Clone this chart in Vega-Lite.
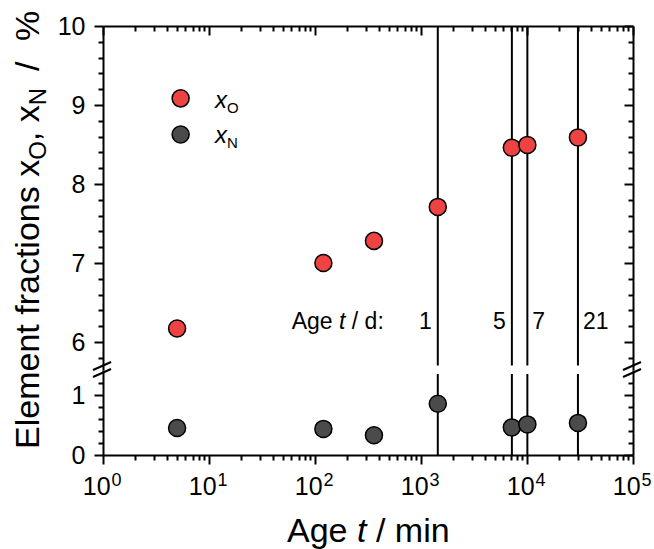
{
  "$schema": "https://vega.github.io/schema/vega-lite/v6.json",
  "padding": {"left": 11, "top": 10, "right": 5, "bottom": 5},
  "config": {
    "font": "Liberation Sans",
    "view": {"stroke": null},
    "axis": {
      "grid": false,
      "domainColor": "#000",
      "domainWidth": 2,
      "tickColor": "#000",
      "tickWidth": 2,
      "labelColor": "#000",
      "labelFont": "Liberation Sans",
      "labelFontSize": 25
    },
    "text": {"font": "Liberation Sans", "color": "#000"}
  },
  "datasets": {
    "samples": [
      {"t": 5, "xO": 6.17, "xN": 0.45},
      {"t": 120, "xO": 7.0, "xN": 0.435},
      {"t": 360, "xO": 7.28, "xN": 0.33},
      {"t": 1440, "xO": 7.71, "xN": 0.855},
      {"t": 7200, "xO": 8.46, "xN": 0.46},
      {"t": 10080, "xO": 8.495, "xN": 0.51},
      {"t": 30240, "xO": 8.59, "xN": 0.535}
    ],
    "days": [
      {"t": 1440, "d": "1"},
      {"t": 7200, "d": "5"},
      {"t": 10080, "d": "7"},
      {"t": 30240, "d": "21"}
    ],
    "decades": [
      {"v": 1, "e": "0"},
      {"v": 10, "e": "1"},
      {"v": 100, "e": "2"},
      {"v": 1000, "e": "3"},
      {"v": 10000, "e": "4"},
      {"v": 100000, "e": "5"}
    ],
    "one": [{}]
  },
  "bounds": "flush",
  "spacing": 0,
  "resolve": {"scale": {"y": "independent"}},
  "vconcat": [
    {
      "width": 530,
      "height": 344,
      "resolve": {"axis": {"x": "independent", "y": "independent"}},
      "layer": [
        {
          "data": {"name": "days"},
          "mark": {"type": "rule", "color": "#000", "strokeWidth": 2},
          "encoding": {
            "x": {"field": "t", "type": "quantitative", "scale": {"type": "log", "domain": [1, 100000], "nice": false}, "axis": null},
            "y": {
              "datum": 5.703, "type": "quantitative",
              "scale": {"domain": [5.6456, 10], "nice": false, "zero": false},
              "axis": {
                "orient": "right", "title": null, "labels": false,
                "values": [5.8,6,6.2,6.4,6.6,6.8,7,7.2,7.4,7.6,7.8,8,8.2,8.4,8.6,8.8,9,9.2,9.4,9.6,9.8,10],
                "tickSize": {"condition": {"test": "abs(datum.value - round(datum.value)) < 0.000001", "value": -9}, "value": -5}
              }
            },
            "y2": {"datum": 10}
          }
        },
        {
          "data": {"name": "samples"},
          "mark": {"type": "circle", "size": 290, "fill": "#EF4343", "stroke": "#000", "strokeWidth": 1.5, "opacity": 1},
          "encoding": {
            "x": {
              "field": "t", "type": "quantitative",
              "scale": {"type": "log", "domain": [1, 100000], "nice": false},
              "axis": {
                "orient": "top", "title": null, "labels": false,
                "values": [1,2,3,4,5,6,7,8,9,10,20,30,40,50,60,70,80,90,100,200,300,400,500,600,700,800,900,1000,2000,3000,4000,5000,6000,7000,8000,9000,10000,20000,30000,40000,50000,60000,70000,80000,90000,100000],
                "tickSize": {"condition": {"test": "indexof([1, 10, 100, 1000, 10000, 100000], datum.value) >= 0", "value": -9}, "value": -5}
              }
            },
            "y": {
              "field": "xO", "type": "quantitative",
              "scale": {"domain": [5.6456, 10], "nice": false, "zero": false},
              "axis": {
                "orient": "left", "title": null, "labelPadding": 9,
                "values": [5.8,6,6.2,6.4,6.6,6.8,7,7.2,7.4,7.6,7.8,8,8.2,8.4,8.6,8.8,9,9.2,9.4,9.6,9.8,10],
                "labelExpr": "abs(datum.value - round(datum.value)) < 0.000001 ? format(datum.value, 'd') : ''",
                "tickSize": {"condition": {"test": "abs(datum.value - round(datum.value)) < 0.000001", "value": 9}, "value": 5}
              }
            }
          }
        },
        {
          "data": {"name": "one"},
          "mark": {"type": "circle", "size": 290, "fill": "#EF4343", "stroke": "#000", "strokeWidth": 1.5, "opacity": 1},
          "encoding": {
            "x": {"datum": 5.4, "type": "quantitative", "axis": null},
            "y": {"datum": 9.084, "type": "quantitative", "axis": null}
          }
        },
        {
          "data": {"name": "one"},
          "mark": {"type": "circle", "size": 290, "fill": "#4B4B4B", "stroke": "#000", "strokeWidth": 1.5, "opacity": 1},
          "encoding": {
            "x": {"datum": 5.4, "type": "quantitative", "axis": null},
            "y": {"datum": 8.626, "type": "quantitative", "axis": null}
          }
        },
        {
          "data": {"name": "one"},
          "mark": {"type": "text", "text": "x", "fontSize": 24, "fontStyle": "italic", "align": "left", "baseline": "alphabetic"},
          "encoding": {
            "x": {"datum": 11.4, "type": "quantitative", "axis": null},
            "y": {"datum": 8.965, "type": "quantitative", "axis": null}
          }
        },
        {
          "data": {"name": "one"},
          "mark": {"type": "text", "text": "O", "fontSize": 15, "align": "left", "baseline": "alphabetic", "dx": 12, "dy": 5},
          "encoding": {
            "x": {"datum": 11.4, "type": "quantitative", "axis": null},
            "y": {"datum": 8.965, "type": "quantitative", "axis": null}
          }
        },
        {
          "data": {"name": "one"},
          "mark": {"type": "text", "text": "x", "fontSize": 24, "fontStyle": "italic", "align": "left", "baseline": "alphabetic"},
          "encoding": {
            "x": {"datum": 11.4, "type": "quantitative", "axis": null},
            "y": {"datum": 8.521, "type": "quantitative", "axis": null}
          }
        },
        {
          "data": {"name": "one"},
          "mark": {"type": "text", "text": "N", "fontSize": 15, "align": "left", "baseline": "alphabetic", "dx": 12, "dy": 5},
          "encoding": {
            "x": {"datum": 11.4, "type": "quantitative", "axis": null},
            "y": {"datum": 8.521, "type": "quantitative", "axis": null}
          }
        },
        {
          "data": {"name": "one"},
          "mark": {"type": "text", "text": "Age", "fontSize": 23, "align": "left", "baseline": "alphabetic"},
          "encoding": {
            "x": {"datum": 60.3, "type": "quantitative", "axis": null},
            "y": {"datum": 6.164, "type": "quantitative", "axis": null}
          }
        },
        {
          "data": {"name": "one"},
          "mark": {"type": "text", "text": "t", "fontSize": 23, "fontStyle": "italic", "align": "left", "baseline": "alphabetic", "dx": 47.3},
          "encoding": {
            "x": {"datum": 60.3, "type": "quantitative", "axis": null},
            "y": {"datum": 6.164, "type": "quantitative", "axis": null}
          }
        },
        {
          "data": {"name": "one"},
          "mark": {"type": "text", "text": "/ d:", "fontSize": 23, "align": "left", "baseline": "alphabetic", "dx": 60.1},
          "encoding": {
            "x": {"datum": 60.3, "type": "quantitative", "axis": null},
            "y": {"datum": 6.164, "type": "quantitative", "axis": null}
          }
        },
        {
          "data": {"name": "days"},
          "transform": [{"filter": "datum.d == '1' || datum.d == '5'"}],
          "mark": {"type": "text", "fontSize": 23, "align": "right", "baseline": "alphabetic", "dx": -6},
          "encoding": {
            "x": {"field": "t", "type": "quantitative", "scale": {"type": "log", "domain": [1, 100000], "nice": false}, "axis": null},
            "y": {"datum": 6.164, "type": "quantitative", "axis": null},
            "text": {"field": "d"}
          }
        },
        {
          "data": {"name": "days"},
          "transform": [{"filter": "datum.d == '7' || datum.d == '21'"}],
          "mark": {"type": "text", "fontSize": 23, "align": "left", "baseline": "alphabetic", "dx": 5},
          "encoding": {
            "x": {"field": "t", "type": "quantitative", "scale": {"type": "log", "domain": [1, 100000], "nice": false}, "axis": null},
            "y": {"datum": 6.164, "type": "quantitative", "axis": null},
            "text": {"field": "d"}
          }
        },
        {
          "data": {"name": "one"},
          "mark": {"type": "text", "text": "Element fractions x", "fontSize": 34, "angle": 270, "align": "left", "baseline": "alphabetic"},
          "encoding": {
            "x": {"datum": 0.2489, "type": "quantitative", "axis": null},
            "y": {"datum": 4.646, "type": "quantitative", "axis": null}
          }
        },
        {
          "data": {"name": "one"},
          "mark": {"type": "text", "text": "O", "fontSize": 24, "angle": 270, "align": "left", "baseline": "alphabetic", "dx": 289.1, "dy": 7},
          "encoding": {
            "x": {"datum": 0.2489, "type": "quantitative", "axis": null},
            "y": {"datum": 4.646, "type": "quantitative", "axis": null}
          }
        },
        {
          "data": {"name": "one"},
          "mark": {"type": "text", "text": ", x", "fontSize": 34, "angle": 270, "align": "left", "baseline": "alphabetic", "dx": 307.8},
          "encoding": {
            "x": {"datum": 0.2489, "type": "quantitative", "axis": null},
            "y": {"datum": 4.646, "type": "quantitative", "axis": null}
          }
        },
        {
          "data": {"name": "one"},
          "mark": {"type": "text", "text": "N", "fontSize": 24, "angle": 270, "align": "left", "baseline": "alphabetic", "dx": 343.7, "dy": 7},
          "encoding": {
            "x": {"datum": 0.2489, "type": "quantitative", "axis": null},
            "y": {"datum": 4.646, "type": "quantitative", "axis": null}
          }
        },
        {
          "data": {"name": "one"},
          "mark": {"type": "text", "text": "/", "fontSize": 34, "angle": 270, "align": "left", "baseline": "alphabetic", "dx": 378},
          "encoding": {
            "x": {"datum": 0.2489, "type": "quantitative", "axis": null},
            "y": {"datum": 4.646, "type": "quantitative", "axis": null}
          }
        },
        {
          "data": {"name": "one"},
          "mark": {"type": "text", "text": "%", "fontSize": 34, "angle": 270, "align": "left", "baseline": "alphabetic", "dx": 408},
          "encoding": {
            "x": {"datum": 0.2489, "type": "quantitative", "axis": null},
            "y": {"datum": 4.646, "type": "quantitative", "axis": null}
          }
        }
      ]
    },
    {
      "width": 530,
      "height": 85,
      "resolve": {"axis": {"x": "independent", "y": "independent"}},
      "layer": [
        {
          "data": {"name": "days"},
          "mark": {"type": "rule", "color": "#000", "strokeWidth": 2},
          "encoding": {
            "x": {"field": "t", "type": "quantitative", "scale": {"type": "log", "domain": [1, 100000], "nice": false}, "axis": null},
            "y": {
              "datum": 0, "type": "quantitative",
              "scale": {"domain": [0, 1.4167], "nice": false, "zero": false},
              "axis": {
                "orient": "right", "title": null, "labels": false,
                "values": [0,0.2,0.4,0.6,0.8,1,1.2],
                "tickSize": {"condition": {"test": "abs(datum.value - round(datum.value)) < 0.000001", "value": -9}, "value": -5}
              }
            },
            "y2": {"datum": 1.35}
          }
        },
        {
          "data": {"name": "samples"},
          "mark": {"type": "circle", "size": 290, "fill": "#4B4B4B", "stroke": "#000", "strokeWidth": 1.5, "opacity": 1},
          "encoding": {
            "x": {
              "field": "t", "type": "quantitative",
              "scale": {"type": "log", "domain": [1, 100000], "nice": false},
              "axis": {
                "orient": "bottom", "title": null, "labels": false,
                "values": [1,2,3,4,5,6,7,8,9,10,20,30,40,50,60,70,80,90,100,200,300,400,500,600,700,800,900,1000,2000,3000,4000,5000,6000,7000,8000,9000,10000,20000,30000,40000,50000,60000,70000,80000,90000,100000],
                "tickSize": {"condition": {"test": "indexof([1, 10, 100, 1000, 10000, 100000], datum.value) >= 0", "value": 9}, "value": 5}
              }
            },
            "y": {
              "field": "xN", "type": "quantitative",
              "scale": {"domain": [0, 1.4167], "nice": false, "zero": false},
              "axis": {
                "orient": "left", "title": null, "labelPadding": 9,
                "values": [0,0.2,0.4,0.6,0.8,1,1.2],
                "labelExpr": "abs(datum.value - round(datum.value)) < 0.000001 ? format(datum.value, 'd') : ''",
                "tickSize": {"condition": {"test": "abs(datum.value - round(datum.value)) < 0.000001", "value": 9}, "value": 5}
              }
            }
          }
        },
        {
          "data": {"name": "decades"},
          "mark": {"type": "text", "text": "10", "fontSize": 25, "align": "right", "baseline": "alphabetic", "dx": 7.6},
          "encoding": {
            "x": {"field": "v", "type": "quantitative", "scale": {"type": "log", "domain": [1, 100000], "nice": false}, "axis": null},
            "y": {"datum": -0.6667, "type": "quantitative", "axis": null}
          }
        },
        {
          "data": {"name": "decades"},
          "mark": {"type": "text", "fontSize": 18, "align": "left", "baseline": "alphabetic", "dx": 8.5},
          "encoding": {
            "x": {"field": "v", "type": "quantitative", "scale": {"type": "log", "domain": [1, 100000], "nice": false}, "axis": null},
            "y": {"datum": -0.5167, "type": "quantitative", "axis": null},
            "text": {"field": "e"}
          }
        },
        {
          "data": {"name": "one"},
          "mark": {"type": "rule", "color": "#000", "strokeWidth": 2},
          "encoding": {
            "x": {"datum": 0.805, "type": "quantitative", "axis": null},
            "x2": {"datum": 1.19},
            "y": {"datum": 1.30, "type": "quantitative", "axis": null},
            "y2": {"datum": 1.433}
          }
        },
        {
          "data": {"name": "one"},
          "mark": {"type": "rule", "color": "#000", "strokeWidth": 2},
          "encoding": {
            "x": {"datum": 0.805, "type": "quantitative", "axis": null},
            "x2": {"datum": 1.19},
            "y": {"datum": 1.4167, "type": "quantitative", "axis": null},
            "y2": {"datum": 1.55}
          }
        },
        {
          "data": {"name": "one"},
          "mark": {"type": "rule", "color": "#000", "strokeWidth": 2},
          "encoding": {
            "x": {"datum": 80500, "type": "quantitative", "axis": null},
            "x2": {"datum": 119000},
            "y": {"datum": 1.30, "type": "quantitative", "axis": null},
            "y2": {"datum": 1.433}
          }
        },
        {
          "data": {"name": "one"},
          "mark": {"type": "rule", "color": "#000", "strokeWidth": 2},
          "encoding": {
            "x": {"datum": 80500, "type": "quantitative", "axis": null},
            "x2": {"datum": 119000},
            "y": {"datum": 1.4167, "type": "quantitative", "axis": null},
            "y2": {"datum": 1.55}
          }
        },
        {
          "data": {"name": "one"},
          "mark": {"type": "text", "text": "Age", "fontSize": 34, "align": "left", "baseline": "alphabetic"},
          "encoding": {
            "x": {"datum": 54.4, "type": "quantitative", "axis": null},
            "y": {"datum": -1.45, "type": "quantitative", "axis": null}
          }
        },
        {
          "data": {"name": "one"},
          "mark": {"type": "text", "text": "t", "fontSize": 34, "fontStyle": "italic", "align": "left", "baseline": "alphabetic", "dx": 70},
          "encoding": {
            "x": {"datum": 54.4, "type": "quantitative", "axis": null},
            "y": {"datum": -1.45, "type": "quantitative", "axis": null}
          }
        },
        {
          "data": {"name": "one"},
          "mark": {"type": "text", "text": "/ min", "fontSize": 34, "align": "left", "baseline": "alphabetic", "dx": 89},
          "encoding": {
            "x": {"datum": 54.4, "type": "quantitative", "axis": null},
            "y": {"datum": -1.45, "type": "quantitative", "axis": null}
          }
        }
      ]
    }
  ]
}
